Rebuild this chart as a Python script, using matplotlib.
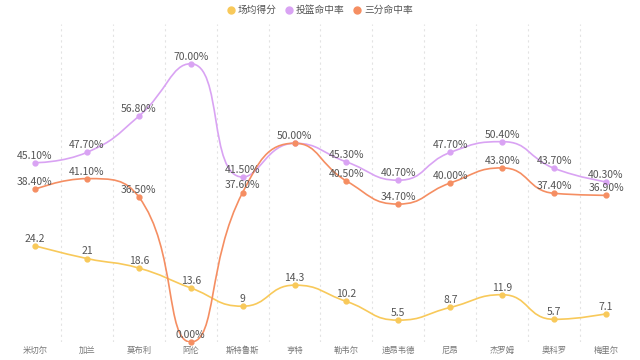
import numpy as np
import matplotlib
matplotlib.use('Agg')
import matplotlib.pyplot as plt
from matplotlib.path import Path
from matplotlib.patches import PathPatch
from matplotlib.lines import Line2D

plt.rcParams['font.family'] = ['Noto Sans CJK SC', 'DejaVu Sans']

players = ['米切尔', '加兰', '莫布利', '阿伦', '斯特鲁斯', '亨特', '勒韦尔',
           '迪昂韦德', '尼昂', '杰罗姆', '奥科罗', '梅里尔']
points = [24.2, 21, 18.6, 13.6, 9, 14.3, 10.2, 5.5, 8.7, 11.9, 5.7, 7.1]
fg_pct = [45.1, 47.7, 56.8, 70.0, 41.5, 50.0, 45.3, 40.7, 47.7, 50.4, 43.7, 40.3]
three_pct = [38.4, 41.1, 36.5, 0.0, 37.6, 50.0, 40.5, 34.7, 40.0, 43.8, 37.4, 36.9]

colors = ['#f8c95a', '#d9a3f3', '#f58e62']
names = ['场均得分', '投篮命中率', '三分命中率']

YMAX = 80
SX, SY = 52.0, 318.0 / YMAX  # pixel scale, used for smoothing in screen space


def smooth_path(xs, ys, smooth=0.5):
    # echarts-like bezier smoothing, done in pixel space
    px = np.asarray(xs, float) * SX
    py = np.asarray(ys, float) * SY
    n = len(px)
    cps = []
    for i in range(n):
        x, y = px[i], py[i]
        if i == 0 or i == n - 1:
            cps.append(((x, y), (x, y)))
            continue
        x0, y0 = px[i - 1], py[i - 1]
        x1, y1 = px[i + 1], py[i + 1]
        vx, vy = x1 - x0, y1 - y0
        lp = np.hypot(x - x0, y - y0)
        ln = np.hypot(x1 - x, y1 - y)
        r = ln / (ln + lp)
        cx1, cy1 = x + vx * smooth * r, y + vy * smooth * r
        cx1 = max(min(cx1, max(x1, x)), min(x1, x))
        cy1 = max(min(cy1, max(y1, y)), min(y1, y))
        vx, vy = cx1 - x, cy1 - y
        cx0, cy0 = x - vx * lp / ln, y - vy * lp / ln
        cx0 = max(min(cx0, max(x0, x)), min(x0, x))
        cy0 = max(min(cy0, max(y0, y)), min(y0, y))
        vx, vy = x - cx0, y - cy0
        cx1, cy1 = x + vx * ln / lp, y + vy * ln / lp
        cps.append(((cx0, cy0), (cx1, cy1)))
    verts = [(px[0], py[0])]
    codes = [Path.MOVETO]
    for i in range(n - 1):
        verts += [cps[i][1], cps[i + 1][0], (px[i + 1], py[i + 1])]
        codes += [Path.CURVE4] * 3
    verts = [(a / SX, b / SY) for a, b in verts]
    return Path(verts, codes)


fig = plt.figure(figsize=(6.4, 3.6), dpi=100)
ax = fig.add_axes([9 / 640, 18 / 360, 623 / 640, 318 / 360])
x = np.arange(len(players))
ax.set_xlim(-0.5, len(players) - 0.5)
ax.set_ylim(0, YMAX)

for b in np.arange(0.5, len(players) - 0.5, 1):
    ax.axvline(b, color='#e3e3e3', lw=0.8, ls=(0, (2, 3)), zorder=0)

series = [points, fg_pct, three_pct]
for vals, c in zip(series, colors):
    ax.add_patch(PathPatch(smooth_path(x, vals), fc='none', ec=c, lw=1.2, zorder=2))
    ax.plot(x, vals, 'o', color=c, ms=3.5, zorder=3, clip_on=False)


def label(xi, yi, txt):
    ax.annotate(txt, (xi, yi), xytext=(0, 1.5), textcoords='offset points',
                ha='center', va='bottom', fontsize=7.5, color='#555555', zorder=4)


for i in range(len(players)):
    label(x[i], points[i], f'{points[i]:g}')
    label(x[i], fg_pct[i], f'{fg_pct[i]:.2f}%')
    if three_pct[i] != fg_pct[i]:
        label(x[i], three_pct[i], f'{three_pct[i]:.2f}%')

ax.set_xticks(x)
ax.set_xticklabels(players, fontsize=6, color='#777777')
ax.tick_params(axis='x', length=0, pad=3)
ax.set_yticks([])
for s in ax.spines.values():
    s.set_visible(False)

handles = [Line2D([], [], marker='o', ls='none', color=c, ms=5) for c in colors]
fig.legend(handles, names, loc='upper center', bbox_to_anchor=(0.5, 1.01), ncol=3,
           frameon=False, fontsize=7, handletextpad=0.3, handlelength=0.8,
           columnspacing=0.9, labelcolor='#555555')

fig.savefig('out.png', dpi=100)
